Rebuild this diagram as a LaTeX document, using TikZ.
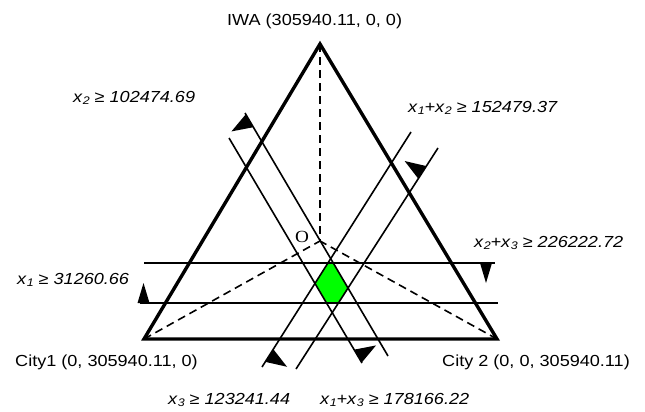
\documentclass[tikz,border=0pt]{standalone}
\usepackage{fontspec}
\setmainfont{Liberation Sans}[FakeStretch=1.13]
\newfontfamily\serifO{Liberation Serif}[FakeStretch=1.13]
\usetikzlibrary{calc}
\newcommand\sbs[1]{\raisebox{-0.35ex}{\fontsize{11pt}{11pt}\selectfont\itshape #1}}
\begin{document}
\begin{tikzpicture}[x=1pt,y=-1pt,
  thickline/.style={line width=3.4pt,line join=miter},
  thinline/.style={line width=1.6pt},
  dashline/.style={line width=1.6pt,dash pattern=on 8pt off 5pt},
  lbl/.style={inner sep=0pt,font=\fontsize{16pt}{19pt}\selectfont}]
\useasboundingbox (0,0) rectangle (645,412);
% triangle corners and centre
\coordinate (T) at (320,44);
\coordinate (BL) at (144,339);
\coordinate (BR) at (497,339);
\coordinate (O) at (320,241);
% constraint lines
\coordinate (L1a) at (140,303); \coordinate (L1b) at (498,303);  % x1
\coordinate (H2a) at (144,263); \coordinate (H2b) at (495,263);  % x2+x3
\coordinate (Et) at (245,113);  \coordinate (Eb) at (388,356);   % x2
\coordinate (Ft) at (229,138);  \coordinate (Fb) at (362,363);   % x1+x3
\coordinate (At) at (411,132);  \coordinate (Ab) at (262,367);   % x3
\coordinate (Bt) at (438,148);  \coordinate (Bb) at (296,369);   % x1+x2
% feasible region
\fill[green] (intersection of At--Ab and H2a--H2b)
  -- (intersection of Et--Eb and H2a--H2b)
  -- (intersection of Et--Eb and Bt--Bb)
  -- (intersection of Bt--Bb and L1a--L1b)
  -- (intersection of Ft--Fb and L1a--L1b)
  -- (intersection of Ft--Fb and At--Ab) -- cycle;
% dashed medians
\draw[dashline] (T) -- (O);
\draw[dashline] (BL) -- (O);
\draw[dashline] (BR) -- (O);
% triangle
\draw[thickline] (T) -- (BL) -- (BR) -- cycle;
% constraint lines
\draw[thinline] (L1a) -- (L1b);
\draw[thinline] (H2a) -- (H2b);
\draw[thinline] (Et) -- (Eb);
\draw[thinline] (Ft) -- (Fb);
\draw[thinline] (At) -- (Ab);
\draw[thinline] (Bt) -- (Bb);
% flags
\coordinate (fE) at ($(Et)!9pt!(Eb)$);
\fill ($(fE)!7.5pt!(Et)$) -- ($(fE)!7.5pt!(Eb)$) -- ($(fE)!21pt!-90:(Eb)$) -- cycle;
\coordinate (fB) at ($(Bt)!29pt!(Bb)$);
\fill ($(fB)!7.5pt!(Bt)$) -- ($(fB)!7.5pt!(Bb)$) -- ($(fB)!21pt!-90:(Bb)$) -- cycle;
\coordinate (fA) at ($(Ab)!13.6pt!(At)$);
\fill ($(fA)!7.5pt!(Ab)$) -- ($(fA)!7.5pt!(At)$) -- ($(fA)!21pt!-90:(At)$) -- cycle;
\coordinate (fF) at ($(Fb)!8pt!(Ft)$);
\fill ($(fF)!7.5pt!(Fb)$) -- ($(fF)!7.5pt!(Ft)$) -- ($(fF)!21pt!-90:(Ft)$) -- cycle;
\coordinate (fL) at ($(L1a)!3.5pt!(L1b)$);
\fill ($(fL)!6pt!(L1a)$) -- ($(fL)!6pt!(L1b)$) -- ($(fL)!20pt!90:(L1b)$) -- cycle;
\coordinate (fH) at ($(H2b)!9pt!(H2a)$);
\fill ($(fH)!6pt!(H2b)$) -- ($(fH)!6pt!(H2a)$) -- ($(fH)!20pt!90:(H2a)$) -- cycle;
% labels
\node[lbl,anchor=base west] (iwa) at (227,26) {IWA (305940.11, 0, 0)};
\node[lbl,anchor=base west] (lx2) at (73,102) {\textit{x}\sbs{2} ≥ \textit{102474.69}};
\node[lbl,anchor=base west] (lx12) at (408,112) {\textit{x}\sbs{1}\textit{+x}\sbs{2} ≥ \textit{152479.37}};
\node[lbl,anchor=base west] (lx23) at (474,247) {\textit{x}\sbs{2}\textit{+x}\sbs{3} ≥ \textit{226222.72}};
\node[lbl,anchor=base west] (lx1) at (17,284) {\textit{x}\sbs{1} ≥ \textit{31260.66}};
\node[lbl,anchor=base east] (city1) at (198,366) {City1 (0, 305940.11, 0)};
\node[lbl,anchor=base west] (city2) at (442,366) {City 2 (0, 0, 305940.11)};
\node[lbl,anchor=base west] (lx3) at (168,404) {\textit{x}\sbs{3} ≥ \textit{123241.44}};
\node[lbl,anchor=base west] (lx13) at (320,404) {\textit{x}\sbs{1}\textit{+x}\sbs{3} ≥ \textit{178166.22}};
\node[inner sep=0pt,anchor=base,font=\serifO\fontsize{17pt}{19pt}\selectfont] (olbl) at (302,242) {O};
\end{tikzpicture}
\end{document}
